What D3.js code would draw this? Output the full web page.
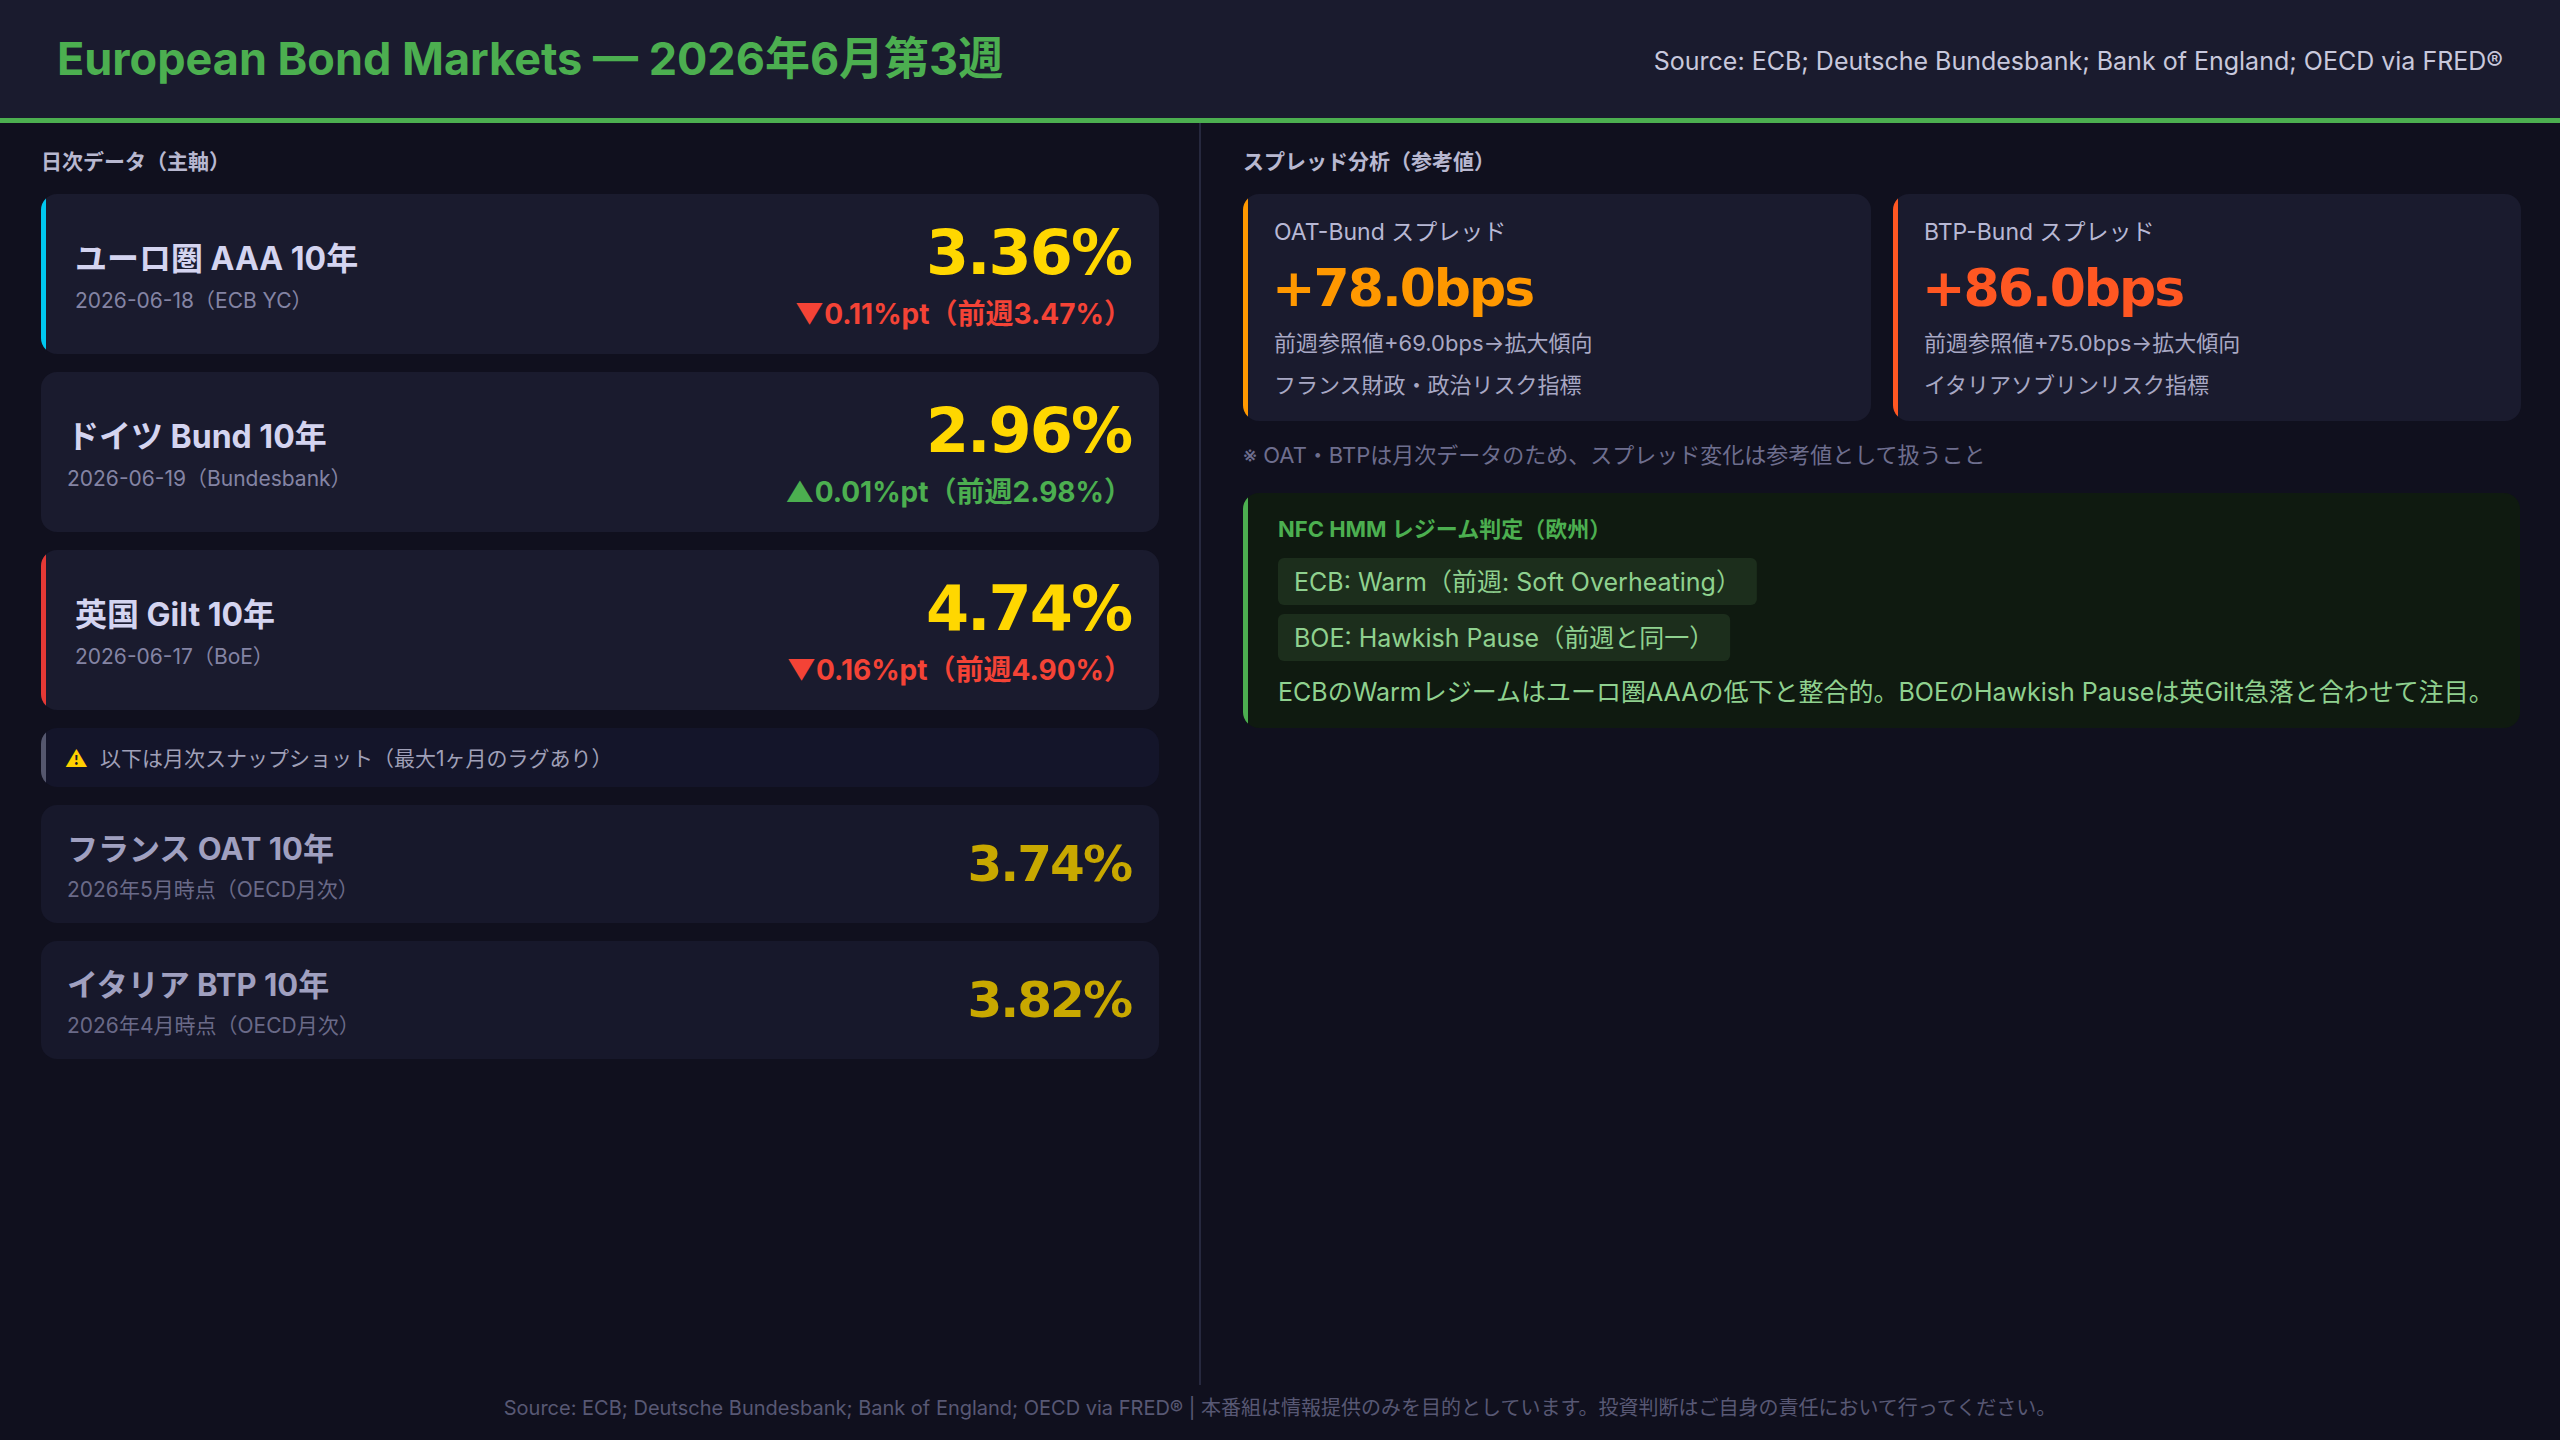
<!DOCTYPE html>
<html><head><meta charset="utf-8">
<script src="https://cdn.jsdelivr.net/npm/d3@7"></script>
<style>
html,body{margin:0;padding:0;background:#10101e;}
svg{display:block;font-family:Inter,"Noto Sans CJK JP","Noto Sans",sans-serif;}
</style></head><body>
<script>
// ---- data ----
const title = "European Bond Markets — 2026年6月第3週";
const source = "Source: ECB; Deutsche Bundesbank; Bank of England; OECD via FRED®";
const dailyNames = ["ユーロ圏 AAA 10年", "ドイツ Bund 10年", "英国 Gilt 10年"];
const dailyDates = ["2026-06-18（ECB YC）", "2026-06-19（Bundesbank）", "2026-06-17（BoE）"];
const dailyValues = [3.36, 2.96, 4.74];
const dailyChange = [-0.11, 0.01, -0.16];
const dailyPrev = [3.47, 2.98, 4.90];
const dailyAccent = ["#00c8f0", null, "#e53935"];
const monthlyNames = ["フランス OAT 10年", "イタリア BTP 10年"];
const monthlyDates = ["2026年5月時点（OECD月次）", "2026年4月時点（OECD月次）"];
const monthlyValues = [3.74, 3.82];
const spreadNames = ["OAT-Bund スプレッド", "BTP-Bund スプレッド"];
const spreadValues = [78.0, 86.0];
const spreadPrev = [69.0, 75.0];
const spreadNotes = ["フランス財政・政治リスク指標", "イタリアソブリンリスク指標"];
const spreadColors = ["#ff9800", "#ff5722"];
const regimes = ["ECB: Warm（前週: Soft Overheating）", "BOE: Hawkish Pause（前週と同一）"];
const regimeSummary = "ECBのWarmレジームはユーロ圏AAAの低下と整合的。BOEのHawkish Pauseは英Gilt急落と合わせて注目。";

const W = 2560, H = 1440;
const NUMFONT = "'DejaVu Sans','Noto Sans CJK JP'";
const svg = d3.select("body").append("svg").attr("width", W).attr("height", H);
svg.append("rect").attr("width", W).attr("height", H).attr("fill", "#10101e");
svg.append("rect").attr("width", W).attr("height", 120).attr("fill", "#1a1b2e");
svg.append("rect").attr("y", 118).attr("width", W).attr("height", 5).attr("fill", "#4caf50");
svg.append("text").attr("x", 57).attr("y", 75).attr("fill", "#4caf50").attr("font-size", 45).attr("font-weight", 700).text(title);
svg.append("text").attr("x", 2503).attr("y", 70).attr("text-anchor", "end").attr("fill", "#c8c8dc").attr("font-size", 25).text(source);
svg.append("rect").attr("x", 1199).attr("y", 123).attr("width", 2).attr("height", 1262).attr("fill", "#26283e");

let clipId = 0;
function card(g, x, y, w, h, fill, accent) {
  const id = "c" + (clipId++);
  g.append("clipPath").attr("id", id).append("rect").attr("x", x).attr("y", y).attr("width", w).attr("height", h).attr("rx", 16);
  const gg = g.append("g").attr("clip-path", "url(#" + id + ")");
  gg.append("rect").attr("x", x).attr("y", y).attr("width", w).attr("height", h).attr("fill", fill);
  if (accent) gg.append("rect").attr("x", x).attr("y", y).attr("width", 5).attr("height", h).attr("fill", accent);
}

svg.append("text").attr("x", 41).attr("y", 169).attr("fill", "#b8b8d0").attr("font-size", 21).attr("font-weight", 700).text("日次データ（主軸）");
const dailyY = d3.scaleLinear().domain([0, 1]).range([194, 372]);
dailyNames.forEach((n, i) => {
  const y = dailyY(i), h = 160;
  const g = svg.append("g");
  card(g, 41, y, 1118, h, "#1a1b2e", dailyAccent[i]);
  const tx = dailyAccent[i] ? 75 : 67;
  g.append("text").attr("x", tx).attr("y", y + 76).attr("fill", "#d4d4f0").attr("font-size", 32).attr("font-weight", 700).text(n);
  g.append("text").attr("x", tx).attr("y", y + 114).attr("fill", "#8484a4").attr("font-size", 21).text(dailyDates[i]);
  g.append("text").attr("x", 1131).attr("y", y + 80).attr("text-anchor", "end").attr("fill", "#ffd700").attr("font-size", 62).attr("font-weight", 900).attr("font-family", NUMFONT).attr("letter-spacing", -2).text(dailyValues[i].toFixed(2) + "%");
  const up = dailyChange[i] > 0;
  g.append("text").attr("x", 1132).attr("y", y + 130).attr("text-anchor", "end").attr("fill", up ? "#4caf50" : "#f44336").attr("font-size", 28).attr("font-weight", 700)
    .text((up ? "▲" : "▼") + Math.abs(dailyChange[i]).toFixed(2) + "%pt（前週" + dailyPrev[i].toFixed(2) + "%）");
});
{
  const g = svg.append("g");
  card(g, 41, 728, 1118, 59, "#14152a", "#55576e");
  g.append("text").attr("x", 65).attr("y", 767).attr("fill", "#ffd000").attr("font-size", 22).text("⚠");
  g.append("text").attr("x", 100).attr("y", 766).attr("fill", "#a0a0b8").attr("font-size", 21).text("以下は月次スナップショット（最大1ヶ月のラグあり）");
}
const monY = d3.scaleLinear().domain([0, 1]).range([805, 941]);
monthlyNames.forEach((n, i) => {
  const y = monY(i), h = 118;
  const g = svg.append("g");
  card(g, 41, y, 1118, h, "#17182b", null);
  g.append("text").attr("x", 67).attr("y", y + 55).attr("fill", "#a0a0c0").attr("font-size", 31).attr("font-weight", 700).text(n);
  g.append("text").attr("x", 67).attr("y", y + 92).attr("fill", "#6a6a88").attr("font-size", 21).text(monthlyDates[i]);
  g.append("text").attr("x", 1131).attr("y", y + 76).attr("text-anchor", "end").attr("fill", "#c8a800").attr("font-size", 50).attr("font-weight", 900).attr("font-family", NUMFONT).attr("letter-spacing", -2).text(monthlyValues[i].toFixed(2) + "%");
});

svg.append("text").attr("x", 1243).attr("y", 169).attr("fill", "#b8b8d0").attr("font-size", 21).attr("font-weight", 700).text("スプレッド分析（参考値）");
const spX = d3.scaleLinear().domain([0, 1]).range([1243, 1893]);
spreadNames.forEach((n, i) => {
  const x = spX(i), w = 628;
  const g = svg.append("g");
  card(g, x, 194, w, 227, "#1a1b2e", spreadColors[i]);
  g.append("text").attr("x", x + 31).attr("y", 240).attr("fill", "#b8b8d4").attr("font-size", 23).text(n);
  g.append("text").attr("x", x + 29).attr("y", 306).attr("fill", spreadColors[i]).attr("font-size", 52).attr("font-weight", 900).attr("font-family", NUMFONT).attr("letter-spacing", -2).text("+" + spreadValues[i].toFixed(1) + "bps");
  g.append("text").attr("x", x + 31).attr("y", 351).attr("fill", "#a8a8c4").attr("font-size", 22).text("前週参照値+" + spreadPrev[i].toFixed(1) + "bps→" + (spreadValues[i] > spreadPrev[i] ? "拡大傾向" : "縮小傾向"));
  g.append("text").attr("x", x + 31).attr("y", 393).attr("fill", "#a8a8c4").attr("font-size", 22).text(spreadNotes[i]);
});
svg.append("text").attr("x", 1243).attr("y", 463).attr("fill", "#6e6e8e").attr("font-size", 22).text("※ OAT・BTPは月次データのため、スプレッド変化は参考値として扱うこと");
{
  const g = svg.append("g");
  card(g, 1243, 493, 1277, 235, "#0f1a10", "#4caf50");
  g.append("text").attr("x", 1278).attr("y", 537).attr("fill", "#4caf50").attr("font-size", 22).attr("font-weight", 700).text("NFC HMM レジーム判定（欧州）");
  const pillY = d3.scaleLinear().domain([0, 1]).range([558, 614]);
  regimes.forEach((r, i) => {
    const y = pillY(i);
    const rect = g.append("rect").attr("x", 1278).attr("y", y).attr("height", 47).attr("rx", 6).attr("fill", "#1c2e1c");
    const t = g.append("text").attr("x", 1294).attr("y", y + 33).attr("fill", "#8fd18f").attr("font-size", 25).text(r);
    rect.attr("width", t.node().getComputedTextLength() + 32);
  });
  g.append("text").attr("x", 1278).attr("y", 701).attr("fill", "#8fd18f").attr("font-size", 25).text(regimeSummary);
}
svg.append("text").attr("x", 1280).attr("y", 1415).attr("text-anchor", "middle").attr("fill", "#585874").attr("font-size", 20)
  .text(source + " | 本番組は情報提供のみを目的としています。投資判断はご自身の責任において行ってください。");
</script>
</body></html>
